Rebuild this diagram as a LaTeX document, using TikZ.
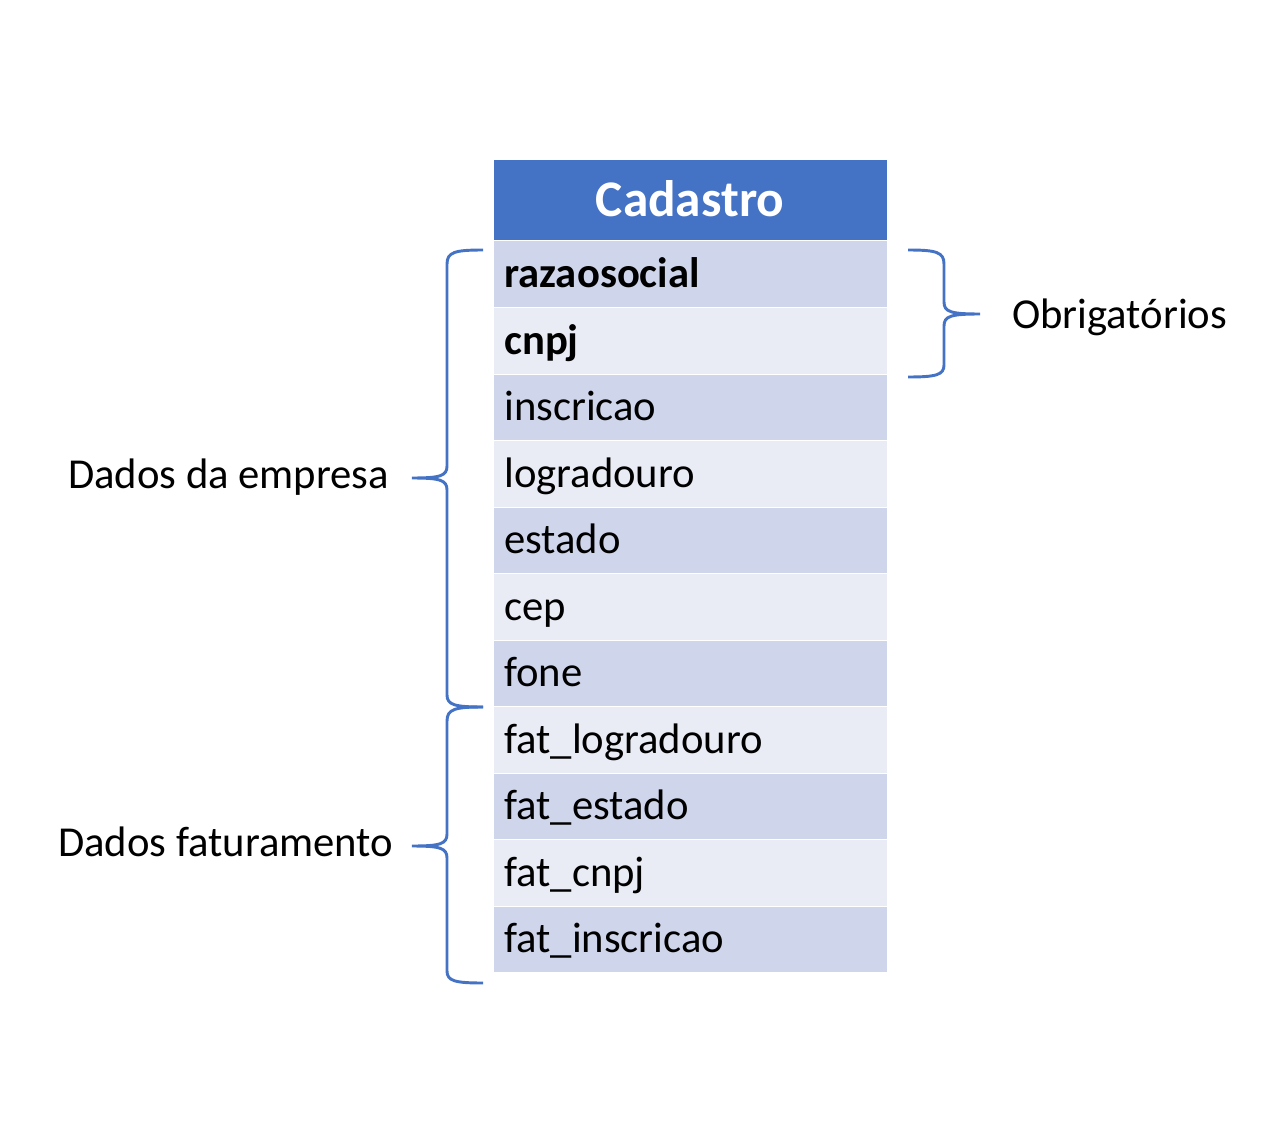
\documentclass[tikz,border=0pt]{standalone}
\usepackage{fontspec}
\setmainfont{Carlito}
\definecolor{headblue}{HTML}{4472C4}
\definecolor{rowdark}{HTML}{CFD5EA}
\definecolor{rowlight}{HTML}{E9EBF5}

\begin{document}
\begin{tikzpicture}[x=0.75pt,y=-0.75pt,
    field/.style={anchor=base west,inner sep=0pt,font=\fontsize{32}{38}\selectfont},
    label/.style={anchor=base west,inner sep=0pt,font=\fontsize{32}{38}\selectfont},
    brace/.style={draw=headblue,line width=2.2pt}]
    \useasboundingbox (0,0) rectangle (1280,1134);

    % Header
    \fill[headblue] (494,160) rectangle (887,240);
    \node[anchor=base,inner sep=0pt,text=white,font=\bfseries\fontsize{38.5}{46}\selectfont] (title) at (690,217) {Cadastro};

    % Rows
    \foreach \txt/\col [count=\i from 0] in {{\bfseries razaosocial}/rowdark,{\bfseries cnpj}/rowlight,
        inscricao/rowdark,logradouro/rowlight,estado/rowdark,cep/rowlight,fone/rowdark,
        fat\_logradouro/rowlight,fat\_estado/rowdark,fat\_cnpj/rowlight,fat\_inscricao/rowdark}{
        \fill[\col] (494,241.5+\i*66.5) rectangle (887,307+\i*66.5);
        \node[field] (row\i) at (504,287.5+\i*66.5) {\txt};
    }

    % Braces
    \draw[brace] (483,250) .. controls (455,250) and (447,252) .. (447,264) -- (447,466)
        .. controls (447,476) and (440,478) .. (412,478) .. controls (440,478) and (447,480) .. (447,490)
        -- (447,695) .. controls (447,705) and (455,707) .. (483,707);
    \draw[brace] (483,707) .. controls (455,707) and (447,709) .. (447,721) -- (447,834)
        .. controls (447,844) and (440,846) .. (412,846) .. controls (440,846) and (447,848) .. (447,858)
        -- (447,971) .. controls (447,981) and (455,983) .. (483,983);
    \draw[brace] (908,250) .. controls (936,250) and (944,252) .. (944,264) -- (944,302)
        .. controls (944,312) and (951,314) .. (980,314) .. controls (951,314) and (944,316) .. (944,326)
        -- (944,365) .. controls (944,375) and (936,377) .. (908,377);

    % Labels
    \node[label] (empresa) at (68,488) {Dados da empresa};
    \node[label] (faturamento) at (58,856) {Dados faturamento};
    \node[label] (obrig) at (1012,328) {Obrigatórios};
\end{tikzpicture}
\end{document}
